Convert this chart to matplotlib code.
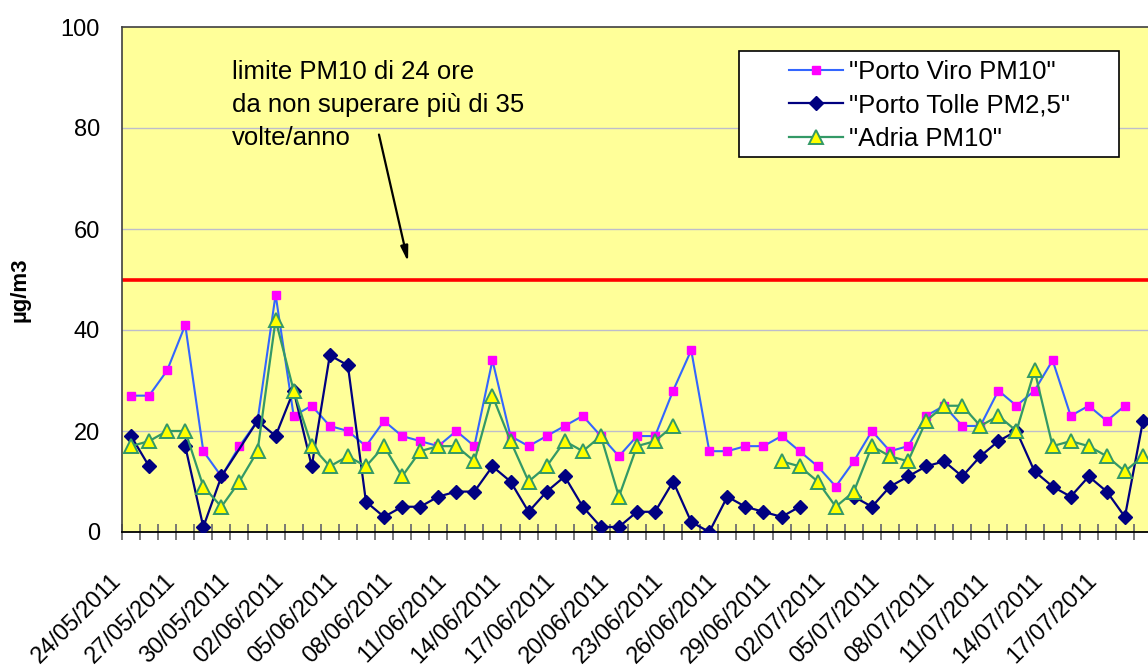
import numpy as np
import pandas as pd
import matplotlib
matplotlib.use("Agg")
import matplotlib.pyplot as plt
from matplotlib.transforms import ScaledTranslation
from matplotlib.patches import Rectangle
from matplotlib.lines import Line2D

plt.rcParams['font.family'] = ['Liberation Sans', 'DejaVu Sans']

nan = np.nan
dates = pd.date_range('2011-05-24', periods=57).strftime('%d/%m/%Y').tolist()

porto_viro_pm10 = [27, 27, 32, 41, 16, 11, 17, 22, 47, 23, 25, 21, 20, 17, 22, 19, 18, 17, 20, 17,
                   34, 19, 17, 19, 21, 23, 19, 15, 19, 19, 28, 36, 16, 16, 17, 17, 19, 16, 13, 9,
                   14, 20, 16, 17, 23, 25, 21, 21, 28, 25, 28, 34, 23, 25, 22, 25, nan]
porto_tolle_pm25 = [19, 13, nan, 17, 1, 11, nan, 22, 19, 28, 13, 35, 33, 6, 3, 5, 5, 7, 8, 8,
                    13, 10, 4, 8, 11, 5, 1, 1, 4, 4, 10, 2, 0, 7, 5, 4, 3, 5, nan, nan,
                    7, 5, 9, 11, 13, 14, 11, 15, 18, 20, 12, 9, 7, 11, 8, 3, 22]
# index of the #N/A cell (line drawn through it, no marker)
porto_tolle_na = [6]
adria_pm10 = [17, 18, 20, 20, 9, 5, 10, 16, 42, 28, 17, 13, 15, 13, 17, 11, 16, 17, 17, 14,
              27, 18, 10, 13, 18, 16, 19, 7, 17, 18, 21, nan, nan, nan, nan, nan, 14, 13, 10, 5,
              8, 17, 15, 14, 22, 25, 25, 21, 23, 20, 32, 17, 18, 17, 15, 12, 15]
limit_value = 50
series_names = ['"Porto Viro PM10"', '"Porto Tolle PM2,5"', '"Adria PM10"']
label_step = 3

W, H = 1148, 670
fig = plt.figure(figsize=(W / 100, H / 100), dpi=100)
ax = fig.add_axes([122 / W, 138 / H, 1030 / W, 505 / H])
ax.set_facecolor('#FFFF99')

n = len(dates)
x = np.arange(n)
ax.set_xlim(-0.5, n - 0.5)
ax.set_ylim(0, 100)

ax.set_yticks(np.arange(0, 101, 20))
for v in range(20, 100, 20):
    ax.axhline(v, color='#BDBDCC', lw=1.0, zorder=1)

ax.axhline(limit_value, color='#FF0000', lw=2.6, zorder=2)

# series
sq = dict(marker='s', ms=6, mfc='#FF00FF', mec='#FF00FF')
di = dict(marker='D', ms=7.3, mfc='#000080', mec='#000080')
tr = dict(marker='^', ms=10, mfc='#FFFF00', mec='#339966', mew=1.4)
ax.plot(x, porto_viro_pm10, color='#3366FF', lw=1.5, zorder=3, **sq)
pt = np.array(porto_tolle_pm25, dtype=float)
keep = np.array([i not in porto_tolle_na for i in x])
ax.plot(x[keep], pt[keep], color='#000080', lw=1.6, zorder=4, **di)
ax.plot(x, adria_pm10, color='#339966', lw=1.6, zorder=5, **tr)

# spines
for s in ['top', 'left', 'right']:
    ax.spines[s].set_color('#404040')
    ax.spines[s].set_linewidth(1.2)
ax.spines['bottom'].set_color('black')
ax.spines['bottom'].set_linewidth(1.3)

ax.tick_params(axis='y', length=0, pad=16, labelsize=17)
ax.set_xticks(x[::label_step])
ax.set_xticklabels(dates[::label_step], rotation=45, ha='right', va='top',
                   rotation_mode='anchor', fontsize=17)
ax.set_xticks(np.arange(-0.5, n, 1), minor=True)
ax.tick_params(axis='x', which='major', length=0, pad=27)
ax.tick_params(axis='x', which='minor', direction='inout', length=11, width=1.3,
               color='#707070')
off = ScaledTranslation(-21 / 100, 0, fig.dpi_scale_trans)
for lab in ax.get_xticklabels():
    lab.set_transform(lab.get_transform() + off)

# y label
fig.text(20 / W, 1 - 290 / H, 'µg/m3', rotation=90, ha='center', va='center',
         fontsize=16, fontweight='bold')

# annotation
ax.text(5.59, 93.5, 'limite PM10 di 24 ore\nda non superare più di 35\nvolte/anno',
        ha='left', va='top', fontsize=18.5, linespacing=1.48, zorder=6)
ax.annotate('', xy=(15.33, 53.5), xytext=(13.72, 78.7),
            arrowprops=dict(arrowstyle='-|>,head_length=0.9,head_width=0.22',
                            color='black', lw=1.6, shrinkA=0, shrinkB=0), zorder=6)

# legend
rect = Rectangle((739 / W, 1 - 157 / H), 380 / W, 106 / H, transform=fig.transFigure,
                 facecolor='white', edgecolor='black', lw=1.2, zorder=3)
fig.add_artist(rect)
handles = [
    Line2D([], [], color='#3366FF', lw=1.5, **sq),
    Line2D([], [], color='#000080', lw=1.6, **di),
    Line2D([], [], color='#339966', lw=1.6, **tr),
]
leg = fig.legend(handles, series_names, loc='upper left',
                 bbox_to_anchor=(789 / W, 1 - 60 / H), frameon=False,
                 fontsize=18.5, handlelength=2.1, handletextpad=0.25,
                 labelspacing=0.36, borderpad=0, borderaxespad=0)
leg.set_zorder(6)

fig.savefig('out.png', dpi=100, facecolor='white')
